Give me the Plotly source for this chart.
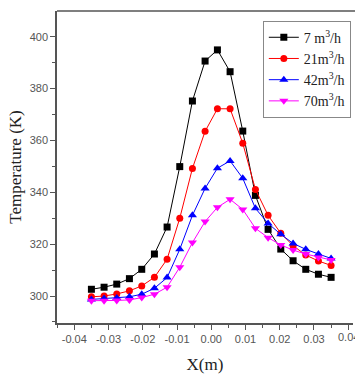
import plotly.graph_objects as go

# Axial position of the measurement points (m)
x_pos = [-0.0350, -0.0313, -0.0276, -0.0239, -0.0203, -0.0166, -0.0129, -0.0092,
         -0.0055, -0.0018, 0.0018, 0.0055, 0.0092, 0.0129, 0.0166, 0.0203,
         0.0239, 0.0276, 0.0313, 0.0350]

# Temperature (K) for each flow rate
t_7 = [302.6, 303.4, 304.6, 306.7, 310.3, 316.2, 326.6, 349.9, 375.2, 390.6,
       394.9, 386.5, 363.6, 338.8, 325.7, 318.1, 313.6, 310.3, 308.4, 307.2]
t_21 = [299.7, 300.0, 300.8, 302.0, 303.9, 307.2, 314.2, 330.0, 349.2, 363.5,
        372.2, 372.2, 358.9, 341.1, 331.1, 324.2, 319.4, 315.8, 313.5, 311.8]
t_42 = [298.7, 299.0, 299.2, 299.7, 300.7, 303.0, 307.1, 318.0, 331.1, 341.5,
        349.3, 352.1, 345.4, 333.8, 328.0, 323.8, 320.3, 318.0, 316.2, 314.5]
t_70 = [298.2, 298.2, 298.3, 298.5, 299.4, 300.7, 303.4, 311.1, 320.6, 328.7,
        334.2, 337.3, 333.4, 326.1, 322.5, 319.7, 317.7, 316.2, 314.9, 313.9]

# X axis ticks
x_ticks = [-0.04, -0.03, -0.02, -0.01, 0.0, 0.01, 0.02, 0.03, 0.04]
x_tick_text = ["-0.04", "-0.03", "-0.02", "-0.01", "0.00", "0.01", "0.02", "0.03", "0.04"]

series = [
    ("7 m<sup>3</sup>/h", t_7, "#000000", "square", 7),
    ("21m<sup>3</sup>/h", t_21, "#ff0000", "circle", 7),
    ("42m<sup>3</sup>/h", t_42, "#0000ff", "triangle-up", 8),
    ("70m<sup>3</sup>/h", t_70, "#ff00ff", "triangle-down", 8),
]

fig = go.Figure()
for name, vals, color, symbol, size in series:
    fig.add_trace(go.Scatter(
        x=x_pos, y=vals, name=name, mode="lines+markers",
        line=dict(color=color, width=1),
        marker=dict(symbol=symbol, size=size, color=color),
    ))

serif = "Liberation Serif, Times New Roman, serif"
tickfont = dict(family="Liberation Sans Narrow, Arial Narrow, Liberation Sans, sans-serif",
                size=11, color="#555555")

# Last x tick label sits at the right edge of the figure and is partly cut off
fig.add_annotation(
    x=x_ticks[-1], y=0, xref="x", yref="paper", yanchor="top", yshift=-6,
    text=x_tick_text[-1], showarrow=False, font=tickfont,
)

# Frame line along the top, running out to the figure edge
fig.add_shape(type="line", xref="paper", yref="paper", x0=0, x1=1, y0=1, y1=1,
              line=dict(color="#555555", width=1.5), layer="above")

fig.update_layout(
    width=355, height=374,
    margin=dict(l=57, r=0, t=11, b=51),
    paper_bgcolor="white", plot_bgcolor="white",
    showlegend=True,
    legend=dict(
        x=0.986, y=0.969, xanchor="right", yanchor="top",
        bgcolor="white", bordercolor="#888888", borderwidth=1,
        font=dict(family=serif, size=14, color="#222222"),
        itemwidth=30, tracegroupgap=0,
    ),
    xaxis=dict(
        domain=[0, 0.993],
        range=[-0.04505, 0.04137],
        tickvals=x_ticks, ticktext=x_tick_text,
        ticks="outside", ticklen=5, tickwidth=1, tickcolor="#555555",
        minor=dict(dtick=0.005, tick0=0, ticks="outside", ticklen=3, tickcolor="#555555"),
        showline=True, linecolor="#555555", linewidth=1.5, mirror=False,
        showgrid=False, zeroline=False,
        tickfont=tickfont,
        title=dict(text="X(m)", font=dict(family=serif, size=17, color="#222222"), standoff=16),
    ),
    yaxis=dict(
        range=[289.6, 409.9],
        tickvals=[300, 320, 340, 360, 380, 400],
        ticks="outside", ticklen=5, tickwidth=1, tickcolor="#555555",
        minor=dict(dtick=10, tick0=0, ticks="outside", ticklen=3, tickcolor="#555555"),
        showline=True, linecolor="#555555", linewidth=1.5, mirror=False,
        showgrid=False, zeroline=False,
        tickfont=tickfont,
        title=dict(text="Temperature (K)", font=dict(family=serif, size=17, color="#222222"), standoff=4),
    ),
)

fig.write_html("out.html", config={"displayModeBar": False})
